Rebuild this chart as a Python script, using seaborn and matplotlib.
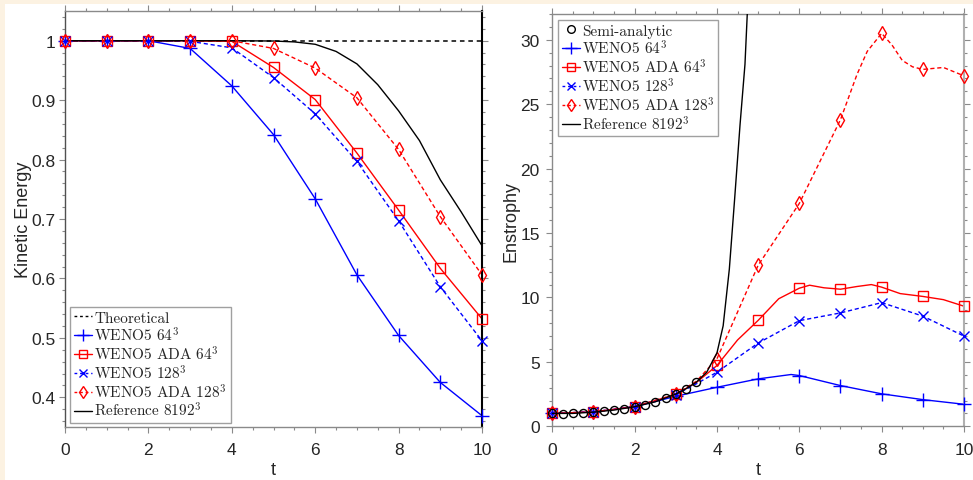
import numpy as np
import pandas as pd
import matplotlib
matplotlib.use("Agg")
import matplotlib.pyplot as plt
from matplotlib.lines import Line2D
from matplotlib.patches import Rectangle
from matplotlib.ticker import MultipleLocator
import seaborn as sns

# ---------------- data ----------------
t_int = [0, 1, 2, 3, 4, 5, 6, 7, 8, 9, 10]

# Kinetic energy
ke_theory_t = [0, 10]
ke_theory = [1.0, 1.0]
ke_weno64 = [1.0, 1.0, 1.0, 0.987, 0.924, 0.842, 0.734, 0.606, 0.504, 0.425, 0.369]
ke_ada64 = [1.0, 1.0, 1.0, 1.0, 0.999, 0.955, 0.901, 0.811, 0.715, 0.617, 0.532]
ke_weno128 = [1.0, 1.0, 1.0, 0.999, 0.988, 0.938, 0.877, 0.797, 0.697, 0.586, 0.495]
ke_ada128 = [1.0, 1.0, 1.0, 1.0, 1.0, 0.987, 0.954, 0.904, 0.817, 0.704, 0.606]
ke_ref_t = [0, 1, 2, 3, 4, 5, 5.5, 6, 6.5, 7, 7.5, 8, 8.5, 9, 9.5, 10]
ke_ref = [1.0, 1.0, 1.0, 1.0, 1.0, 0.9995, 0.998, 0.994, 0.982, 0.961, 0.926,
          0.882, 0.832, 0.766, 0.712, 0.655]

# Enstrophy
en_semi_t = [0, 0.25, 0.5, 0.75, 1, 1.25, 1.5, 1.75, 2, 2.25, 2.5, 2.75, 3, 3.25, 3.5]
en_semi = [1.00, 0.99, 1.00, 1.03, 1.10, 1.17, 1.26, 1.38, 1.52, 1.68, 1.90,
           2.17, 2.50, 2.92, 3.43]
en_weno64 = [1.0, 1.12, 1.52, 2.33, 3.03, 3.68, 3.94, 3.16, 2.52, 2.07, 1.71]
en_weno64_lt = [0, 1, 2, 3, 4, 5, 5.8, 6, 7, 8, 9, 10]
en_weno64_l = [1.0, 1.12, 1.52, 2.33, 3.03, 3.68, 4.02, 3.94, 3.16, 2.52, 2.07, 1.71]
en_ada64 = [1.0, 1.12, 1.52, 2.48, 4.72, 8.22, 10.72, 10.64, 10.80, 10.08, 9.32]
en_ada64_lt = [0, 1, 2, 3, 3.5, 4, 4.5, 5, 5.5, 6, 6.25, 6.6, 7, 7.4, 7.75, 8,
               8.45, 9, 9.5, 10]
en_ada64_l = [1.0, 1.12, 1.52, 2.48, 3.4, 4.72, 6.7, 8.22, 9.9, 10.72, 10.95,
              10.75, 10.64, 10.85, 11.0, 10.80, 10.3, 10.08, 9.83, 9.32]
en_weno128 = [1.0, 1.12, 1.52, 2.45, 4.2, 6.46, 8.2, 8.8, 9.6, 8.55, 7.0]
en_weno128_lt = [0, 1, 2, 3, 3.5, 4, 5, 6, 7, 8, 9, 10]
en_weno128_l = [1.0, 1.12, 1.52, 2.45, 3.3, 4.2, 6.46, 8.2, 8.8, 9.6, 8.55, 7.0]
en_ada128 = [1.0, 1.12, 1.52, 2.5, 5.24, 12.5, 17.3, 23.8, 30.5, 27.7, 27.2]
en_ada128_lt = [0, 1, 2, 3, 3.5, 4, 5, 6, 7, 7.4, 7.65, 8, 8.25, 8.5, 8.75, 9, 9.5, 10]
en_ada128_l = [1.0, 1.12, 1.52, 2.5, 3.5, 5.24, 12.5, 17.3, 23.8, 27.3, 29.1,
               30.5, 29.6, 28.4, 27.9, 27.7, 27.85, 27.2]
en_ref_t = [0, 0.5, 1, 1.5, 2, 2.5, 3, 3.25, 3.5, 3.75, 4, 4.15, 4.3, 4.43,
            4.56, 4.68, 4.75]
en_ref = [1.0, 1.0, 1.1, 1.26, 1.52, 1.9, 2.5, 2.92, 3.43, 4.2, 5.7, 7.8,
          12.2, 17.7, 23.4, 28.1, 33.0]

labels_left = ["Theoretical", r"WENO5 64$^3$", r"WENO5 ADA 64$^3$",
               r"WENO5 128$^3$", r"WENO5 ADA 128$^3$", r"Reference 8192$^3$"]
labels_right = ["Semi-analytic", r"WENO5 64$^3$", r"WENO5 ADA 64$^3$",
                r"WENO5 128$^3$", r"WENO5 ADA 128$^3$", r"Reference 8192$^3$"]

# ---------------- style ----------------
sns.set_style("ticks")
plt.rcParams["font.family"] = ["Liberation Sans", "DejaVu Sans"]
plt.rcParams["mathtext.fontset"] = "cm"

BLUE = "#0000ff"
RED = "#ff0000"
BLACK = "#000000"
SPINE = "#8a8a8a"
DASH = (3, 2)

fig = plt.figure(figsize=(9.73, 4.81), dpi=100)
fig.patch.set_facecolor("white")
cream = "#fcf2e2"
fig.patches.append(Rectangle((0, 1 - 5 / 481), 1, 5 / 481, transform=fig.transFigure,
                             facecolor=cream, edgecolor="none", zorder=-10))
fig.patches.append(Rectangle((0, 0), 5 / 973, 1, transform=fig.transFigure,
                             facecolor=cream, edgecolor="none", zorder=-10))

axL = fig.add_axes([65 / 973, 1 - 428 / 481, (482 - 65) / 973, (428 - 12) / 481])
axR = fig.add_axes([552.3 / 973, 1 - 427.3 / 481, (964 - 552.3) / 973, (427.3 - 15) / 481])


def line(ax, x, y, color, ls="-", lw=1.0, z=2):
    df = pd.DataFrame({"x": x, "y": y})
    sns.lineplot(data=df, x="x", y="y", ax=ax, color=color, lw=lw, sort=False,
                 estimator=None, legend=False, zorder=z)
    ln = ax.get_lines()[-1]
    if isinstance(ls, str):
        ln.set_linestyle(ls)
    else:
        ln.set_dashes(ls)
    return ln


def marks(ax, x, y, marker, color, size, mew=1.0, z=3):
    ax.plot(x, y, linestyle="none", marker=marker, markersize=size,
            markeredgecolor=color, markerfacecolor="none", markeredgewidth=mew,
            clip_on=False, zorder=z)


# ---- left: kinetic energy ----
line(axL, ke_theory_t, ke_theory, BLACK, ls=(3, 2.5), lw=1.1, z=1)
line(axL, t_int, ke_weno64, BLUE)
marks(axL, t_int, ke_weno64, "+", BLUE, 10)
line(axL, t_int, ke_ada64, RED)
marks(axL, t_int, ke_ada64, "s", RED, 6.5)
line(axL, t_int, ke_weno128, BLUE, ls=DASH)
marks(axL, t_int, ke_weno128, "x", BLUE, 6.5)
line(axL, t_int, ke_ada128, RED, ls=DASH)
marks(axL, t_int, ke_ada128, "d", RED, 7)
line(axL, ke_ref_t, ke_ref, BLACK, lw=1.0)

axL.set_xlim(0, 10)
axL.set_ylim(0.35, 1.05)
axL.set_yticks([0.4, 0.5, 0.6, 0.7, 0.8, 0.9, 1.0])
axL.set_yticklabels(["0.4", "0.5", "0.6", "0.7", "0.8", "0.9", "1"])
axL.yaxis.set_minor_locator(MultipleLocator(0.02))
axL.set_ylabel("Kinetic Energy", fontsize=13)
axL.yaxis.set_label_coords(-0.08, 0.5)

# ---- right: enstrophy ----
marks(axR, en_semi_t, en_semi, "o", BLACK, 5.8, mew=1.0, z=4)
line(axR, en_weno64_lt, en_weno64_l, BLUE)
marks(axR, t_int, en_weno64, "+", BLUE, 10)
line(axR, en_ada64_lt, en_ada64_l, RED)
marks(axR, t_int, en_ada64, "s", RED, 7)
line(axR, en_weno128_lt, en_weno128_l, BLUE, ls=DASH)
marks(axR, t_int, en_weno128, "x", BLUE, 7)
line(axR, en_ada128_lt, en_ada128_l, RED, ls=DASH)
marks(axR, t_int, en_ada128, "d", RED, 7.5)
line(axR, en_ref_t, en_ref, BLACK, lw=1.0, z=5)

axR.set_xlim(0, 10)
axR.set_ylim(0, 32)
axR.set_yticks([0, 5, 10, 15, 20, 25, 30])
axR.yaxis.set_minor_locator(MultipleLocator(1))
axR.set_ylabel("Enstrophy", fontsize=13)
axR.yaxis.set_label_coords(-0.08, 0.5)

for ax in (axL, axR):
    ax.set_xticks([0, 2, 4, 6, 8, 10])
    ax.xaxis.set_minor_locator(MultipleLocator(0.5))
    ax.set_xlabel("t", fontsize=13, labelpad=3)
    ax.tick_params(which="both", direction="out", color=SPINE, labelsize=12.5,
                   top=True, right=True, width=0.8)
    ax.tick_params(which="major", length=4)
    ax.tick_params(which="minor", length=2.5)
    ax.tick_params(axis="x", which="major", pad=7)
    ax.tick_params(axis="y", which="major", pad=3)
    for s in ax.spines.values():
        s.set_color(SPINE)
        s.set_linewidth(1.0)
    ax.set_facecolor("white")

axR.tick_params(axis="y", which="major", pad=5)
axL.spines["left"].set_color("#505050")
axL.spines["right"].set_color(BLACK)
axL.spines["right"].set_linewidth(1.5)
axR.spines["right"].set_linewidth(1.5)
axR.spines["right"].set_color("#b0b0b0")


def handle(color, ls, marker, ms):
    h = Line2D([0], [0], color=color, lw=1.0, marker=marker, markersize=ms,
               markerfacecolor="none", markeredgecolor=color)
    if isinstance(ls, str):
        h.set_linestyle(ls)
    else:
        h.set_dashes(ls)
    return h


hL = [handle(BLACK, (2, 2), None, 0),
      handle(BLUE, "-", "+", 9),
      handle(RED, "-", "s", 5.5),
      handle(BLUE, (2, 2), "x", 6),
      handle(RED, (2, 2), "d", 6),
      handle(BLACK, "-", None, 0)]
hR = [handle(BLACK, "none", "o", 5.5)] + hL[1:]

leg_kw = dict(prop={"family": "cmr10", "size": 11}, frameon=True, fancybox=False,
              framealpha=1, edgecolor="#a0a0a0", handlelength=1.2, handletextpad=0.15,
              labelspacing=0.05, borderpad=0.25, borderaxespad=0.0)
legL = axL.legend(hL, labels_left, loc="lower left",
                  bbox_to_anchor=(5 / 417, 4 / 416), **leg_kw)
legR = axR.legend(hR, labels_right, loc="upper left",
                  bbox_to_anchor=(5.5 / 412, 1 - 6 / 412), **leg_kw)
for leg in (legL, legR):
    leg.get_frame().set_linewidth(1.0)

fig.savefig("out.png", dpi=100, facecolor=fig.get_facecolor())
